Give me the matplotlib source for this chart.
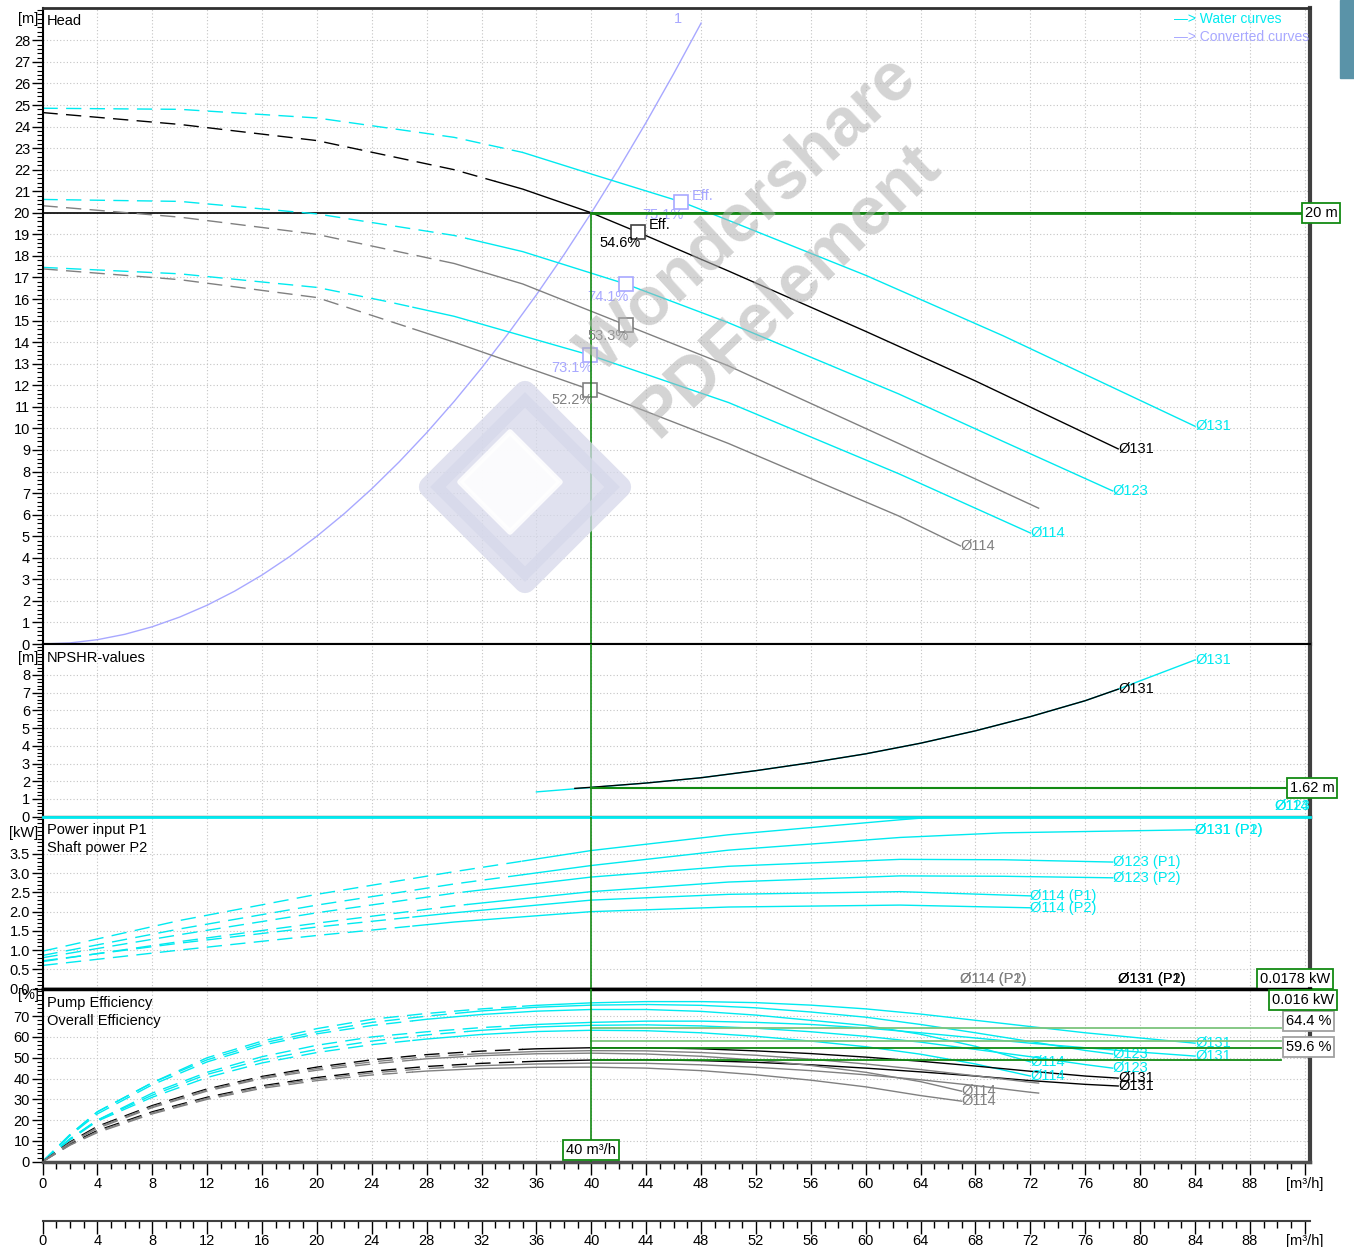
import numpy as np
import matplotlib.pyplot as plt
from matplotlib.ticker import MultipleLocator, FixedLocator
from matplotlib.patches import Polygon, Rectangle

plt.rcParams['font.family'] = ['Liberation Sans', 'DejaVu Sans']
plt.rcParams['font.size'] = 10

# ---- data ----
# head curves [m] (water = cyan, converted = black/grey)
Q_H131W = [0, 10, 20, 30, 35, 40, 46.6, 50, 60, 70, 77, 84]
H_131W = [24.85, 24.8, 24.4, 23.5, 22.8, 21.8, 20.5, 19.65, 17.1, 14.3, 12.2, 10.1]
Q_H131C = [0, 10, 20, 30, 35, 40, 43.4, 50, 60, 68, 78.4]
H_131C = [24.65, 24.1, 23.35, 22.0, 21.1, 20.0, 19.1, 17.3, 14.5, 12.2, 9.05]
Q_H123W = [0, 10, 20, 30, 35, 42.5, 50, 62.4, 70, 78]
H_123W = [20.62, 20.53, 19.95, 18.95, 18.2, 16.7, 14.9, 11.6, 9.4, 7.1]
Q_H123C = [0, 10, 20, 30, 35, 42.5, 50, 62.4, 72.6]
H_123C = [20.33, 19.8, 19.0, 17.65, 16.7, 14.8, 12.9, 9.3, 6.3]
Q_H114W = [0, 10, 20, 25, 30, 39.9, 50, 62.4, 72]
H_114W = [17.47, 17.17, 16.54, 15.9, 15.2, 13.4, 11.2, 7.9, 5.15]
Q_H114C = [0, 10, 20, 30, 39.9, 50, 62.4, 66.9]
H_114C = [17.4, 16.9, 16.07, 14.0, 11.8, 9.3, 5.94, 4.55]

# system curve "1"
Q_SYS = [0, 2, 4, 6, 8, 10, 12, 14, 16, 18, 20, 22, 24, 26, 28, 30, 32, 34, 36, 38, 40, 42, 44, 46, 48]
H_SYS = [0, 0.05, 0.2, 0.45, 0.8, 1.25, 1.8, 2.45, 3.2, 4.05, 5.0, 6.05, 7.2, 8.45, 9.8,
         11.25, 12.8, 14.45, 16.2, 18.05, 20.0, 22.05, 24.2, 26.45, 28.8]

# efficiency markers on head curves: (Q, H, label)
EFF_W = [(46.5, 20.5, '75.1%'), (42.5, 16.7, '74.1%'), (39.9, 13.4, '73.1%')]
EFF_C = [(43.4, 19.1, '54.6%'), (42.5, 14.8, '53.3%'), (39.9, 11.8, '52.2%')]

# NPSHR [m]
Q_NPSH_W = [36, 40, 44, 48, 52, 56, 60, 64, 68, 72, 76, 78.4, 84]
NPSH_W = [1.4, 1.65, 1.9, 2.2, 2.6, 3.05, 3.55, 4.15, 4.85, 5.65, 6.55, 7.2, 8.85]
Q_NPSH_C = [38.8, 40, 44, 48, 52, 56, 60, 64, 68, 72, 76, 78.4]
NPSH_C = [1.6, 1.66, 1.9, 2.2, 2.6, 3.05, 3.55, 4.15, 4.85, 5.65, 6.55, 7.2]

# power [kW]
Q_P131 = [0, 10, 20, 30, 40, 50, 62.5, 70, 84]
P1_131 = [0.97, 1.77, 2.45, 3.04, 3.59, 4.0, 4.39, 4.6, 4.9]
P2_131 = [0.86, 1.55, 2.17, 2.72, 3.20, 3.6, 3.93, 4.05, 4.13]
Q_P123 = [0, 10, 20, 30, 40, 50, 62.5, 70, 78]
P1_123 = [0.80, 1.4, 1.97, 2.48, 2.90, 3.18, 3.36, 3.35, 3.29]
P2_123 = [0.70, 1.22, 1.7, 2.15, 2.52, 2.77, 2.93, 2.92, 2.88]
Q_P114 = [0, 10, 20, 30, 40, 50, 62.5, 72]
P1_114 = [0.72, 1.18, 1.6, 1.97, 2.30, 2.45, 2.52, 2.41]
P2_114 = [0.60, 1.0, 1.38, 1.73, 2.00, 2.12, 2.17, 2.10]

# efficiency [%] (pump, overall)
Q_E131W = [0, 2, 4, 8, 12, 16, 20, 24, 28, 32, 36, 40, 44, 48, 52, 56, 60, 64, 68, 72, 76, 80, 84]
ETA_P_131W = [0, 13, 24, 38, 50, 58, 64, 68.5, 71.3, 73.5, 75.2, 76.4, 77, 77, 76.5, 75.3, 73.5, 71, 68, 65, 62, 59.5, 57]
ETA_T_131W = [0, 11, 20, 33, 43, 50.5, 56, 60, 62.5, 64.5, 66, 67, 67.6, 67.6, 67, 66, 64.3, 62, 59.5, 57, 54.8, 52.7, 50.8]
Q_E123W = [0, 2, 4, 8, 12, 16, 20, 24, 28, 32, 36, 40, 44, 48, 52, 56, 60, 64, 68, 72, 76, 78]
ETA_P_123W = [0, 13, 24, 38, 49, 57, 62.5, 67, 70, 72.5, 74.3, 75.3, 75.6, 75.2, 74, 72, 69.5, 66, 62, 57.8, 53.5, 51.8]
ETA_T_123W = [0, 11, 20, 32, 42, 49, 54, 58, 61, 63.2, 64.8, 65.6, 65.8, 65.3, 64.2, 62.5, 60.3, 57.5, 54, 50.5, 46.7, 45]
Q_E114W = [0, 2, 4, 8, 12, 16, 20, 24, 28, 32, 36, 40, 44, 48, 52, 56, 60, 64, 68, 72]
ETA_P_114W = [0, 12.5, 23, 37, 48, 56, 61.5, 65.5, 68.5, 70.8, 72.4, 73.2, 73.2, 72.3, 70.5, 68, 65.5, 61.3, 55.5, 48]
ETA_T_114W = [0, 10.5, 19.5, 31, 40.5, 47.5, 52.5, 56.3, 59, 61.2, 62.6, 63.2, 63, 62, 60.3, 58, 55.3, 51.7, 47, 41.2]
Q_E131C = [0, 2, 4, 8, 12, 16, 20, 24, 28, 32, 36, 40, 44, 48, 52, 56, 60, 64, 68, 72, 76, 78.4]
ETA_P_131C = [0, 9.5, 17, 27, 35, 41, 45.5, 49, 51.5, 53.2, 54.3, 54.8, 54.8, 54.3, 53.3, 52, 50.3, 48.3, 46, 43.5, 41.2, 40.2]
ETA_T_131C = [0, 8.5, 15, 24, 31, 36.5, 40.5, 43.5, 45.8, 47.3, 48.3, 48.9, 49, 48.6, 47.8, 46.6, 45, 43.2, 41.2, 39, 37.2, 36.4]
Q_E123C = [0, 2, 4, 8, 12, 16, 20, 24, 28, 32, 36, 40, 44, 48, 52, 56, 60, 64, 68, 72, 72.6]
ETA_P_123C = [0, 9, 16.5, 26.5, 34.5, 40.5, 44.8, 48, 50.5, 52, 53, 53.4, 53.3, 52.5, 51.2, 49.3, 47, 44.3, 41.3, 38.2, 37.8]
ETA_T_123C = [0, 8, 14.5, 23.5, 30.5, 36, 39.8, 42.7, 44.8, 46.2, 47, 47.4, 47.3, 46.6, 45.4, 43.8, 41.8, 39.4, 36.6, 33.4, 33]
Q_E114C = [0, 2, 4, 8, 12, 16, 20, 24, 28, 32, 36, 40, 44, 48, 52, 56, 60, 64, 67]
ETA_P_114C = [0, 9, 16, 26, 34, 40, 44, 47, 49.5, 51, 51.9, 52.2, 51.8, 50.7, 48.9, 46.3, 43, 38.5, 33.9]
ETA_T_114C = [0, 8, 14, 23, 30, 35.3, 39, 41.7, 43.6, 44.8, 45.4, 45.5, 45, 43.8, 41.8, 39.2, 36, 31.8, 29.1]

# minimum flow (dashed below) per impeller
QMIN = {'131': 35, '123': 31, '114': 27}

# duty point
DUTY_Q = 40
DUTY_H = 20
DUTY_H_LINE_END = 82.2
DUTY_NPSH = 1.62
DUTY_P = ['0.0178 kW', '0.016 kW']
EFF_LINES = [64.4, 58.2, 54.6, 48.9]
EFF_LINE_COLORS = ['#7cc47c', '#7cc47c', '#138a13', '#138a13']
EFF_BOXES = [(67.6, '64.4 %'), (55.1, '59.6 %')]

CYAN = '#00eaf0'
LAV = '#a8a8ff'
GRAY = '#808080'
GREEN = '#138a13'
DASH = (11, 6)

W, H = 1354, 1247
XMAX = 92.38
fig = plt.figure(figsize=(W / 100, H / 100), dpi=100)


def px_axes(left, top, right, bottom):
    return fig.add_axes([left / W, 1 - bottom / H, (right - left) / W, (bottom - top) / H])


def setup(ax, ymax, yticks, minor, fmt, titles, title_dy, unit, unit_dy):
    ax.set_xlim(0, XMAX)
    ax.set_ylim(0, ymax)
    ax.xaxis.set_major_locator(MultipleLocator(4))
    ax.xaxis.set_minor_locator(MultipleLocator(1))
    ax.yaxis.set_major_locator(FixedLocator(yticks))
    ax.yaxis.set_minor_locator(MultipleLocator(minor))
    ax.set_yticklabels([fmt.format(v) for v in yticks])
    ax.grid(True, which='major', color='#c4c4c4', ls=(0, (1, 2)), lw=0.8)
    ax.tick_params(axis='y', which='major', length=8, width=1, pad=1, labelsize=10.5)
    ax.tick_params(axis='y', which='minor', length=4, width=0.8)
    ax.tick_params(axis='x', which='both', bottom=False, labelbottom=False)
    for s in ax.spines.values():
        s.set_linewidth(1.5)
    ax.spines['right'].set_linewidth(3)
    ax.spines['right'].set_color('#404040')
    for i, t in enumerate(titles):
        ax.annotate(t, (0, 1), xycoords='axes fraction', xytext=(4, title_dy - 18 * i),
                    textcoords='offset pixels', va='center', ha='left', fontsize=10.5)
    ax.annotate(unit, (0, 1), xycoords='axes fraction', xytext=(-4, unit_dy),
                textcoords='offset pixels', va='center', ha='right', fontsize=10.5)


def draw(ax, q, v, color, qmin, lw=1.0):
    q = np.asarray(q, float)
    v = np.asarray(v, float)
    vm = np.interp(qmin, q, v)
    lo = q < qmin
    hi = q > qmin
    ax.plot(np.r_[q[lo], qmin], np.r_[v[lo], vm], color=color, lw=lw, dashes=DASH)
    ax.plot(np.r_[qmin, q[hi]], np.r_[vm, v[hi]], color=color, lw=lw)


def end_label(ax, q, v, text, color):
    ax.text(q[-1], v[-1], text, color=color, va='center', ha='left', fontsize=10.5, clip_on=False)


def box(ax, x, y, text, ec=GREEN, ha='left'):
    ax.text(x, y, text, ha=ha, va='center', fontsize=10.5, clip_on=False, zorder=10,
            bbox=dict(boxstyle='square,pad=0.2', fc='white', ec=ec, lw=1.3))


ax_h = px_axes(42.5, 8, 1310, 644)
ax_n = px_axes(42.5, 644, 1310, 816.7)
ax_p = px_axes(42.5, 816.7, 1310, 988.5)
ax_e = px_axes(42.5, 988.5, 1310, 1161.7)
ax_x2 = px_axes(42.5, 1219.5, 1310, 1221)

setup(ax_h, 29.5, list(range(0, 29)), 0.2, '{:d}', ['Head'], -13, '[m]', -11)
setup(ax_n, 9.75, list(range(0, 9)), 0.2, '{:d}', ['NPSHR-values'], -14, '[m]', -14)
setup(ax_p, 4.47, [0, 0.5, 1.0, 1.5, 2.0, 2.5, 3.0, 3.5], 0.1, '{:.1f}',
      ['Power input P1', 'Shaft power P2'], -13, '[kW]', -16)
setup(ax_e, 83.3, list(range(0, 71, 10)), 2, '{:d}',
      ['Pump Efficiency', 'Overall Efficiency'], -14.5, '[%]', -7)

ax_h.spines['top'].set_linewidth(2)
ax_h.spines['top'].set_color('#303030')
ax_n.spines['bottom'].set_color(GRAY)
ax_n.spines['bottom'].set_linewidth(2.5)
ax_p.spines['top'].set_color(CYAN)
ax_p.spines['top'].set_linewidth(2)
ax_p.spines['bottom'].set_linewidth(2.5)
ax_e.spines['top'].set_linewidth(2.5)
ax_e.spines['bottom'].set_linewidth(2.5)
ax_e.spines['bottom'].set_color('#505050')

# x axes (main + duplicate below)
xt = list(range(0, 93, 4))
xl = [str(v) for v in range(0, 89, 4)] + ['[m³/h]']
for ax, pad in ((ax_e, 2), (ax_x2, 0.5)):
    ax.set_xlim(0, XMAX)
    ax.xaxis.set_major_locator(FixedLocator(xt))
    ax.xaxis.set_minor_locator(MultipleLocator(1))
    ax.set_xticklabels(xl)
    ax.tick_params(axis='x', which='major', bottom=True, labelbottom=True, length=9, width=1,
                   pad=pad, labelsize=10.5)
    ax.tick_params(axis='x', which='minor', bottom=True, length=5, width=1)
ax_x2.set_yticks([])
for s in ('top', 'left', 'right'):
    ax_x2.spines[s].set_visible(False)
ax_x2.spines['bottom'].set_linewidth(1.5)
ax_x2.spines['bottom'].set_color('#404040')

# ---- head panel ----
ax_h.plot(Q_SYS, H_SYS, color=LAV, lw=1.0)
ax_h.text(Q_SYS[-1] - 1.7, H_SYS[-1] + 0.2, '1', color=LAV, ha='center', va='center', fontsize=10.5)
ax_h.plot([0, DUTY_H_LINE_END], [DUTY_H, DUTY_H], color='k', lw=1.2)
ax_h.plot([DUTY_Q, XMAX], [DUTY_H, DUTY_H], color=GREEN, lw=2, zorder=6, clip_on=False)
ax_h.plot([DUTY_Q, DUTY_Q], [0, DUTY_H], color=GREEN, lw=1.2, zorder=6)
box(ax_h, 92.0, DUTY_H, '20 m')

draw(ax_h, Q_H131W, H_131W, CYAN, QMIN['131'])
draw(ax_h, Q_H131C, H_131C, 'k', QMIN['131'] - 2)
draw(ax_h, Q_H123W, H_123W, CYAN, QMIN['123'])
draw(ax_h, Q_H123C, H_123C, GRAY, QMIN['123'] - 2)
draw(ax_h, Q_H114W, H_114W, CYAN, QMIN['114'])
draw(ax_h, Q_H114C, H_114C, GRAY, QMIN['114'])
end_label(ax_h, Q_H131W, H_131W, 'Ø131', CYAN)
end_label(ax_h, Q_H131C, H_131C, 'Ø131', 'k')
end_label(ax_h, Q_H123W, H_123W, 'Ø123', CYAN)
end_label(ax_h, Q_H114W, H_114W, 'Ø114', CYAN)
end_label(ax_h, Q_H114C, H_114C, 'Ø114', GRAY)

for q, hh, lab in EFF_W:
    ax_h.plot(q, hh, 's', ms=10, mfc='white', mec=LAV, mew=1.2, zorder=4)
    ax_h.text(q - 1.3, hh - 0.6, lab, color=LAV, ha='center', va='center', fontsize=10.5, zorder=3)
ax_h.text(EFF_W[0][0] + 0.8, EFF_W[0][1] + 0.3, 'Eff.', color=LAV, ha='left', va='center', fontsize=10.5)
eff_c_colors = ['#404040', GRAY, GRAY]
for (q, hh, lab), c in zip(EFF_C, eff_c_colors):
    ax_h.plot(q, hh, 's', ms=10, mfc='white', mec=c, mew=1.2, zorder=4)
    ax_h.text(q - 1.3, hh - 0.5, lab, color='k' if c != GRAY else GRAY, ha='center', va='center',
              fontsize=10.5, zorder=7)
ax_h.text(EFF_C[0][0] + 0.8, EFF_C[0][1] + 0.35, 'Eff.', color='k', ha='left', va='center', fontsize=10.5)

ax_h.text(82.5, 29.0, '—> Water curves', color=CYAN, ha='left', va='center', fontsize=10)
ax_h.text(82.5, 28.15, '—> Converted curves', color=LAV, ha='left', va='center', fontsize=10)

# ---- NPSH panel ----
ax_n.plot(Q_NPSH_W, NPSH_W, color=CYAN, lw=1.0)
ax_n.plot(Q_NPSH_C, NPSH_C, color='k', lw=1.0)
end_label(ax_n, Q_NPSH_W, NPSH_W, 'Ø131', CYAN)
end_label(ax_n, Q_NPSH_C, NPSH_C, 'Ø131', 'k')
ax_n.text(89.8, 0.6, 'Ø114', color=CYAN, ha='left', va='center', fontsize=10.5)
ax_n.text(89.8, 0.6, 'Ø123', color=CYAN, ha='left', va='center', fontsize=10.5)
ax_n.plot([DUTY_Q, XMAX], [DUTY_NPSH, DUTY_NPSH], color=GREEN, lw=1.5, zorder=6)
ax_n.axvline(DUTY_Q, color=GREEN, lw=1.2, zorder=6)
box(ax_n, 90.9, DUTY_NPSH, '1.62 m')

# ---- power panel ----
for q, p1, p2, key in ((Q_P131, P1_131, P2_131, '131'), (Q_P123, P1_123, P2_123, '123'),
                       (Q_P114, P1_114, P2_114, '114')):
    draw(ax_p, q, p1, CYAN, QMIN[key])
    draw(ax_p, q, p2, CYAN, QMIN[key])
end_label(ax_p, Q_P131, P2_131, 'Ø131 (P1)', CYAN)
end_label(ax_p, Q_P131, P2_131, 'Ø131 (P2)', CYAN)
end_label(ax_p, Q_P123, P1_123, 'Ø123 (P1)', CYAN)
end_label(ax_p, Q_P123, P2_123, 'Ø123 (P2)', CYAN)
end_label(ax_p, Q_P114, P1_114, 'Ø114 (P1)', CYAN)
end_label(ax_p, Q_P114, P2_114, 'Ø114 (P2)', CYAN)
for lab in ('Ø114 (P1)', 'Ø114 (P2)'):
    ax_p.text(Q_H114C[-1], 0.25, lab, color=GRAY, ha='left', va='center', fontsize=10.5)
for lab in ('Ø131 (P1)', 'Ø131 (P2)'):
    ax_p.text(Q_H131C[-1], 0.25, lab, color='k', ha='left', va='center', fontsize=10.5)
ax_p.axvline(DUTY_Q, color=GREEN, lw=1.2, zorder=6)
box(ax_p, 88.7, 0.25, DUTY_P[0])

# ---- efficiency panel ----
eff_sets = ((Q_E131W, ETA_P_131W, ETA_T_131W, CYAN, '131'),
            (Q_E123W, ETA_P_123W, ETA_T_123W, CYAN, '123'),
            (Q_E114W, ETA_P_114W, ETA_T_114W, CYAN, '114'),
            (Q_E131C, ETA_P_131C, ETA_T_131C, 'k', '131'),
            (Q_E123C, ETA_P_123C, ETA_T_123C, GRAY, '123'),
            (Q_E114C, ETA_P_114C, ETA_T_114C, GRAY, '114'))
for q, ep, et, c, key in eff_sets:
    draw(ax_e, q, ep, c, QMIN[key])
    draw(ax_e, q, et, c, QMIN[key])
    if not (c == GRAY and key == '123'):
        end_label(ax_e, q, ep, 'Ø' + key, c)
        end_label(ax_e, q, et, 'Ø' + key, c)
for v, c in zip(EFF_LINES, EFF_LINE_COLORS):
    ax_e.plot([DUTY_Q, 90.3], [v, v], color=c, lw=1.3, zorder=6)
for y, lab in EFF_BOXES:
    box(ax_e, 90.6, y, lab, ec='#a0a0a0')
box(ax_e, 89.6, 77.7, DUTY_P[1])
ax_e.plot([DUTY_Q, DUTY_Q], [0, 83.3], color=GREEN, lw=1.2, zorder=6)
box(ax_e, DUTY_Q, 5.6, '40 m³/h', ha='center')


# ---- watermark and viewer strip ----
def fpx(x, y):
    return (x / W, 1 - y / H)


fig.patches.append(Polygon([fpx(525, 392), fpx(620, 487), fpx(525, 582), fpx(430, 487)],
                           closed=True, transform=fig.transFigure, fc='#d6d8ea', ec='#d6d8ea',
                           lw=16, joinstyle='round', alpha=0.75, zorder=50))
fig.patches.append(Polygon([fpx(510, 432), fpx(560, 482), fpx(510, 532), fpx(460, 482)],
                           closed=True, transform=fig.transFigure, fc='white', ec='white',
                           lw=4, joinstyle='round', alpha=0.9, zorder=51))
fig.text(748 / W, 1 - 215 / H, 'Wondershare', rotation=42.6, ha='center', va='center',
         fontsize=49, fontweight='bold', color='#b0b0b0', alpha=0.55, zorder=52)
fig.text(787 / W, 1 - 290 / H, 'PDFelement', rotation=43.5, ha='center', va='center',
         fontsize=49, fontweight='bold', color='#b0b0b0', alpha=0.55, zorder=52)
fig.patches.append(Rectangle(fpx(1340, 78), 14 / W, 78 / H, transform=fig.transFigure,
                             color='#5a93a8', zorder=50))

fig.savefig('out.png', dpi=100, facecolor='white')
